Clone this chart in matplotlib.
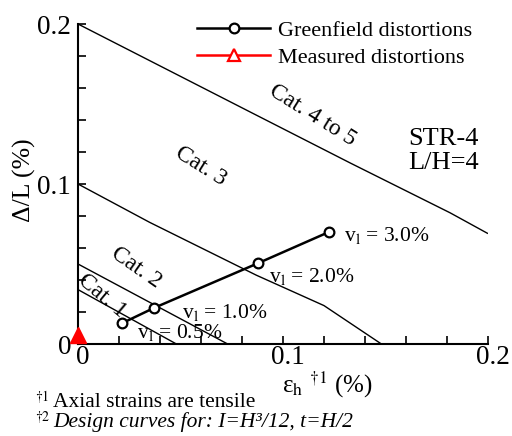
import matplotlib
matplotlib.use('Agg')
import matplotlib.pyplot as plt
import matplotlib.transforms as mtransforms
from matplotlib.lines import Line2D

plt.rcParams['font.family'] = ['Liberation Serif', 'DejaVu Serif']
plt.rcParams['mathtext.fontset'] = 'stix'

# design curves (eps_h %, delta/L %)
cat45_x = [0.0, 0.084, 0.133, 0.1815, 0.2]
cat45_y = [0.2, 0.145, 0.113, 0.082, 0.069]
cat3_x = [0.0, 0.035, 0.087, 0.12, 0.148]
cat3_y = [0.1, 0.076, 0.043, 0.024, 0.0]
cat2_x = [0.0, 0.073]
cat2_y = [0.05, 0.0]
cat1_x = [0.0, 0.048]
cat1_y = [0.034, 0.0]

# greenfield distortions
gf_x = [0.0215, 0.037, 0.088, 0.1224]
gf_y = [0.013, 0.0225, 0.0506, 0.070]
gf_labels = ['0.5%', '1.0%', '2.0%', '3.0%']

# measured
meas_x = [0.0]
meas_y = [0.0056]

fig = plt.figure(figsize=(5.12, 4.36), dpi=100)
ax = fig.add_axes([78/512, 1-344/436, 410/512, 320/436])

for xs, ys in [(cat45_x, cat45_y), (cat3_x, cat3_y), (cat2_x, cat2_y), (cat1_x, cat1_y)]:
    ax.plot(xs, ys, color='black', lw=1.0, solid_capstyle='butt')

ax.plot(gf_x, gf_y, color='black', lw=1.8, marker='o', ms=7, mfc='white', mec='black', mew=1.6, zorder=4)
ax.plot(meas_x, meas_y, color='red', lw=0, marker='^', ms=11, mfc='red', mec='red', clip_on=False, zorder=5)

ax.set_xlim(0, 0.2)
ax.set_ylim(0, 0.2)
ax.set_xticks([0, 0.1, 0.2])
ax.set_xticklabels(['0', '0.1', '0.2'])
ax.set_yticks([0, 0.1, 0.2])
ax.set_yticklabels(['0', '0.1', '0.2'])
ax.set_xticks([0.02*i for i in range(11)], minor=True)
ax.set_yticks([0.02*i for i in range(11)], minor=True)
ax.tick_params(which='both', direction='in', labelsize=19.5, width=1.2, color='black')
ax.tick_params(which='major', length=6)
ax.tick_params(which='minor', length=6)
ax.tick_params(axis='x', pad=1)
ax.tick_params(axis='y', pad=5)
for s in ['top', 'right']:
    ax.spines[s].set_visible(False)
for s in ['left', 'bottom']:
    ax.spines[s].set_linewidth(1.5)

# x tick labels sit a little right of their ticks in the original
shift = mtransforms.ScaledTranslation(5/100, 0, fig.dpi_scale_trans)
for lab in ax.get_xticklabels():
    lab.set_transform(lab.get_transform() + shift)

# category labels
ax.text(0.1143, 0.143, 'Cat. 4 to 5', fontsize=17, rotation=-32, ha='center', va='center')
ax.text(0.06, 0.111, 'Cat. 3', fontsize=17, rotation=-32, ha='center', va='center')
ax.text(0.0283, 0.0475, 'Cat. 2', fontsize=17, rotation=-35, ha='center', va='center')
ax.text(0.0117, 0.030, 'Cat. 1', fontsize=17, rotation=-40, ha='center', va='center')

lab_pos = [(0.0288, 0.0075), (0.0507, 0.020), (0.093, 0.0419), (0.130, 0.0681)]
for (tx, ty), lab in zip(lab_pos, gf_labels):
    ax.text(tx, ty, r'v$_\mathrm{l}$ = ' + lab, fontsize=15.5, ha='left', va='center')

ax.text(0.161, 0.1206, 'STR-4\nL/H=4', fontsize=19, ha='left', va='center', linespacing=1.1)

handles = [Line2D([], [], color='black', lw=1.8, marker='o', ms=7, mfc='white', mew=1.6),
           Line2D([], [], color='red', lw=1.8, marker='^', ms=9, mfc='white', mew=1.6)]
fig.legend(handles, ['Greenfield distortions', 'Measured distortions'],
           loc='upper left', bbox_to_anchor=(197/512, 1-20/436), frameon=False,
           fontsize=16, handlelength=3.3, handletextpad=0.36, labelspacing=0.32,
           borderpad=0, borderaxespad=0)

fig.text(24/512, 1-180/436, '\u0394/L (%)', fontsize=18.5, rotation=90, ha='center', va='center')
fig.text(282/512, 1-385/436, '\u03b5$_\\mathrm{h}$ $^{\\dagger\\mathit{1}}$ (%)', fontsize=18, ha='left', va='center')

fig.text(35/512, 1-396/436, r'$\dagger\mathit{1}$', fontsize=10, ha='left', va='center')
fig.text(53/512, 1-402/436, 'Axial strains are tensile', fontsize=15.5, ha='left', va='center')
fig.text(35/512, 1-417/436, r'$\dagger\mathit{2}$', fontsize=10, ha='left', va='center')
fig.text(53/512, 1-422/436, 'Design curves for: I=H\u00b3/12, t=H/2', fontsize=15.5, style='italic', ha='left', va='center')

fig.savefig('out.png', dpi=100)
